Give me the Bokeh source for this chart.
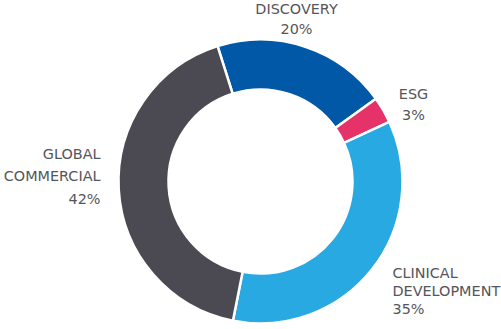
import numpy as np
from bokeh.plotting import figure
from bokeh.models import Range1d, ColumnDataSource
from bokeh.core.properties import value
from bokeh.embed import file_html
from bokeh.resources import INLINE

# data
categories = ["DISCOVERY", "ESG", "CLINICAL DEVELOPMENT", "GLOBAL COMMERCIAL"]
shares = [20, 3, 35, 42]
colors = ["#0058a7", "#e5336a", "#29a9e1", "#4b4a52"]
label_lines = [["DISCOVERY", "20%"], ["ESG", "3%"], ["CLINICAL", "DEVELOPMENT", "35%"],
               ["GLOBAL", "COMMERCIAL", "42%"]]

# layout (pixel space, y measured from top)
W, H = 501, 329
cx, cy = 260, 181
r_in, r_out = 92, 142
start_offset_deg = 17.6  # start counter-clockwise from top
label_anchor = [(296, 8, "center", 20), (413, 93, "center", 21),
                (392, 272, "left", 18), (100, 153, "right", 22.5)]

p = figure(width=W, height=H, x_range=Range1d(0, W), y_range=Range1d(0, H),
           output_backend="svg", toolbar_location=None, min_border=0)
p.axis.visible = False
p.grid.visible = False
p.outline_line_color = None
p.background_fill_color = "white"
p.border_fill_color = "white"

frac = np.array(shares, dtype=float) / sum(shares)
cum = np.concatenate([[0], np.cumsum(frac)])
start0 = np.pi / 2 + np.radians(start_offset_deg)
starts = start0 - cum[:-1] * 2 * np.pi
ends = start0 - cum[1:] * 2 * np.pi

src = ColumnDataSource(dict(start=starts, end=ends, color=colors))
p.annular_wedge(x=cx, y=H - cy, inner_radius=r_in, outer_radius=r_out,
                start_angle="start", end_angle="end", direction="clock",
                fill_color="color", line_color="white", line_width=2.5, source=src)

xs, ys, ts, aligns = [], [], [], []
for lines, (lx, ly, al, sp) in zip(label_lines, label_anchor):
    for i, t in enumerate(lines):
        xs.append(lx)
        ys.append(H - (ly + i * sp))
        ts.append(t)
        aligns.append(al)

tsrc = ColumnDataSource(dict(x=xs, y=ys, text=ts, align=aligns))
p.text(x="x", y="y", text="text", text_align="align", text_baseline="middle",
       text_font=value("DejaVu Sans"), text_font_size="14.4px", text_color="#55555a",
       source=tsrc)

open("out.html", "w").write(file_html(p, INLINE))
